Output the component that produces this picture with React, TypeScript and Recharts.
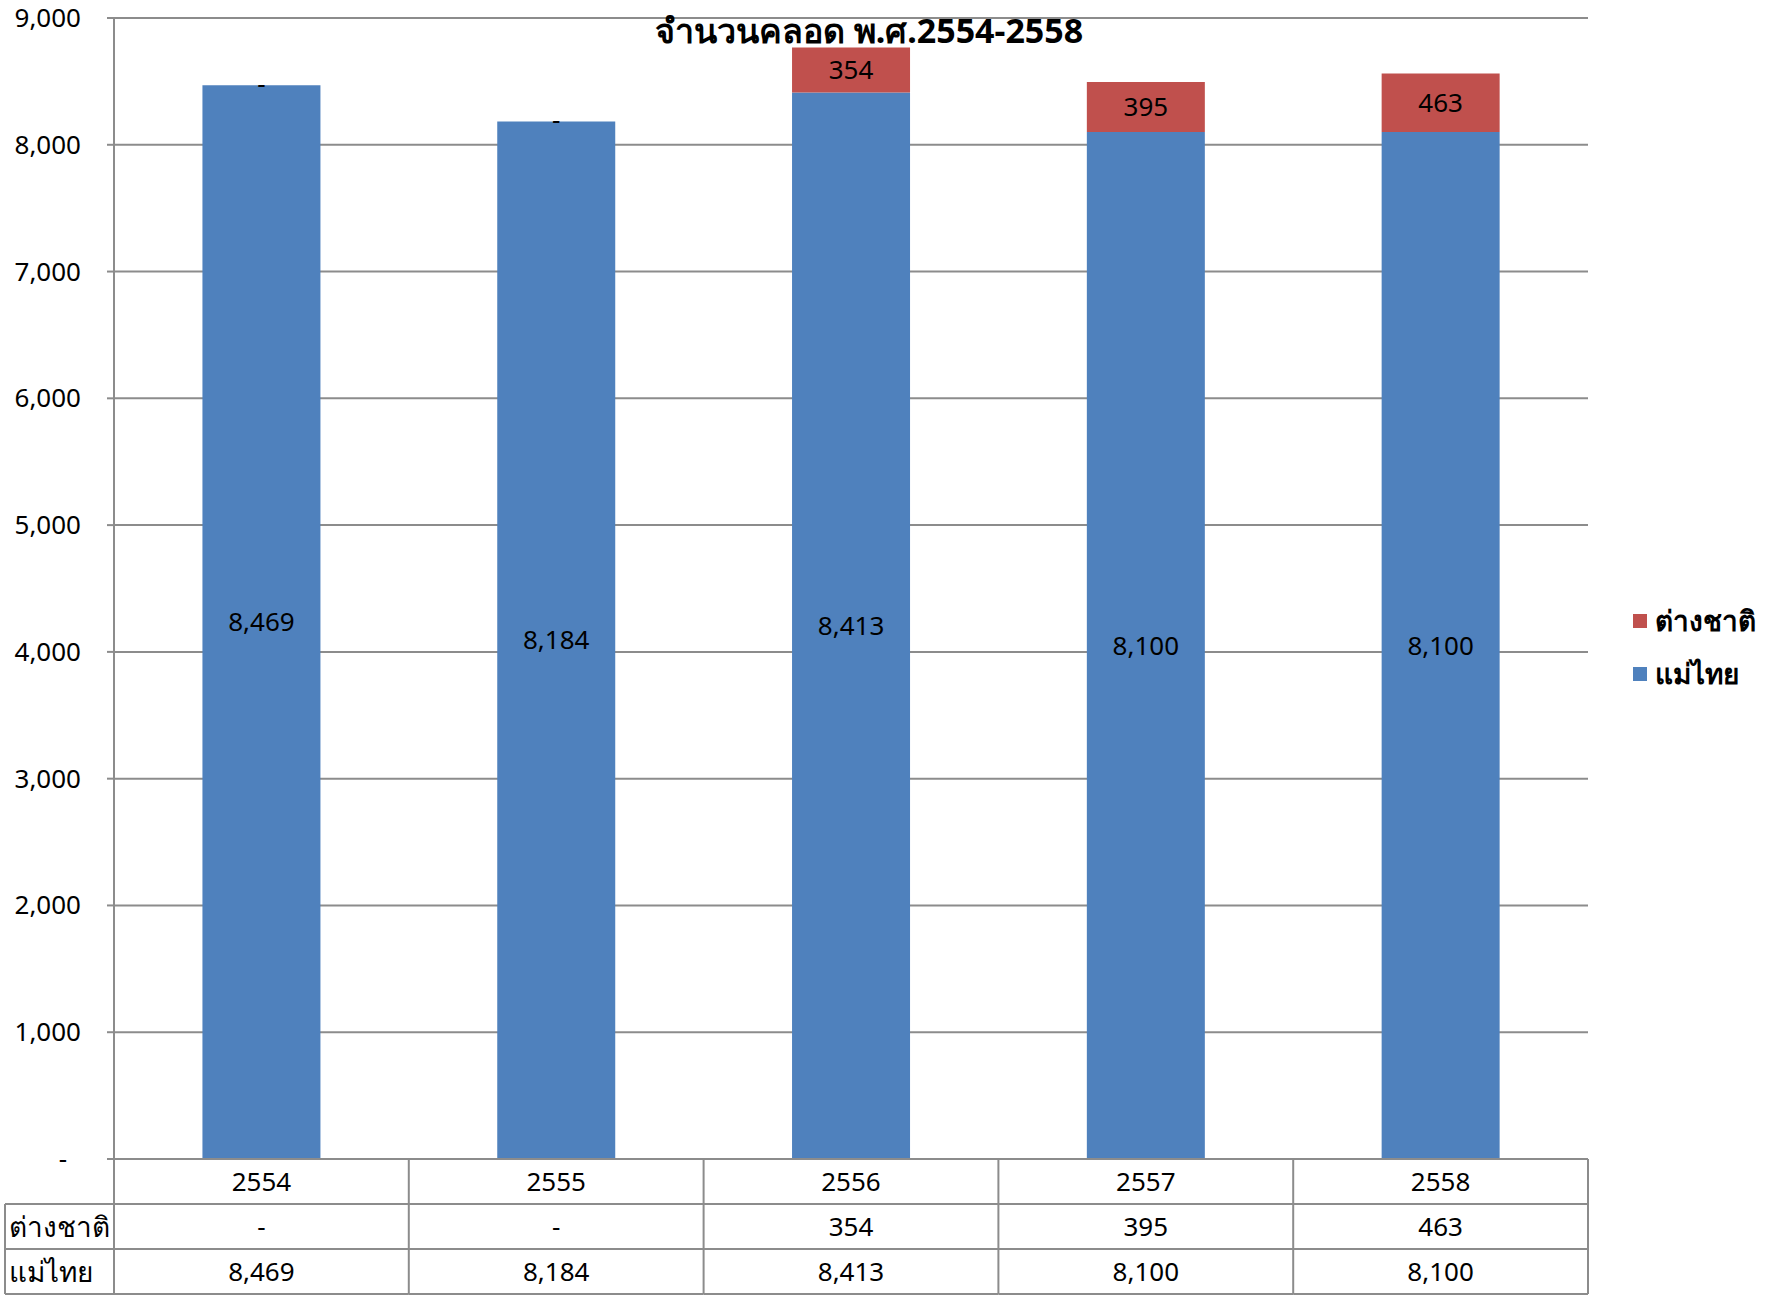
import React from 'react';
import * as R from 'recharts';

const { BarChart, Bar, XAxis, YAxis, CartesianGrid, LabelList, Legend } = R as any;

const categories = ['2554', '2555', '2556', '2557', '2558'];
const thaiMothers = [8469, 8184, 8413, 8100, 8100];
const foreigners = [0, 0, 354, 395, 463];
const yTicks = [0, 1000, 2000, 3000, 4000, 5000, 6000, 7000, 8000, 9000];
const thaiName = 'แม่ไทย';
const foreignName = 'ต่างชาติ';
const chartTitle = 'จำนวนคลอด พ.ศ.2554-2558';

const BLUE = '#4F81BD';
const RED = '#C0504D';
const GRID = '#8c8c8c';
const FONT = "'Noto Sans', 'DejaVu Sans', sans-serif";
const FS = 26;
const FS_THAI = 28;
const ROW_H = 45;
const TABLE_LEFT = 5;

const data = categories.map((c, i) => ({ year: c, thai: thaiMothers[i], foreign: foreigners[i] }));

const fmt = (v: any) => (Number(v) === 0 ? '-' : Number(v).toLocaleString('en-US'));

const YTick = (props: any) => {
  const { x, y, payload } = props;
  const v = payload.value;
  return (
    <text x={v === 0 ? x - 14 : x} y={y} dy={9} textAnchor="end" fontSize={FS} fill="#000" fontFamily={FONT}>
      {fmt(v)}
    </text>
  );
};

const TableTick = (props: any) => {
  const { x, payload, index } = props;
  const usePA = (R as any).usePlotArea;
  const plot = usePA ? usePA() : null;
  const plotW = plot ? plot.width : props.width;
  const y0 = plot ? plot.y + plot.height : props.y;
  const bw = plotW / categories.length;
  const left = x - bw / 2;
  const right = x + bw / 2;
  const i = index;
  const line = { stroke: GRID, strokeWidth: 2 };
  const txt = { fontSize: FS, fill: '#000', fontFamily: FONT, textAnchor: 'middle' as const };
  return (
    <g>
      <line x1={right} x2={right} y1={y0} y2={y0 + 3 * ROW_H} {...line} />
      {i === 0 && (
        <g>
          <line x1={left} x2={left} y1={y0} y2={y0 + 3 * ROW_H} {...line} />
          <line x1={TABLE_LEFT} x2={TABLE_LEFT} y1={y0 + ROW_H} y2={y0 + 3 * ROW_H} {...line} />
          <line x1={TABLE_LEFT} x2={left} y1={y0 + ROW_H} y2={y0 + ROW_H} {...line} />
          <line x1={TABLE_LEFT} x2={left} y1={y0 + 2 * ROW_H} y2={y0 + 2 * ROW_H} {...line} />
          <line x1={TABLE_LEFT} x2={left} y1={y0 + 3 * ROW_H} y2={y0 + 3 * ROW_H} {...line} />
          <text x={TABLE_LEFT + 4} y={y0 + 1.5 * ROW_H} dy={10} fontSize={FS_THAI} fill="#000" fontFamily={FONT}>{foreignName}</text>
          <text x={TABLE_LEFT + 4} y={y0 + 2.5 * ROW_H} dy={10} fontSize={FS_THAI} fill="#000" fontFamily={FONT}>{thaiName}</text>
        </g>
      )}
      <line x1={left} x2={right} y1={y0 + ROW_H} y2={y0 + ROW_H} {...line} />
      <line x1={left} x2={right} y1={y0 + 2 * ROW_H} y2={y0 + 2 * ROW_H} {...line} />
      <line x1={left} x2={right} y1={y0 + 3 * ROW_H} y2={y0 + 3 * ROW_H} {...line} />
      <text x={x} y={y0 + 0.5 * ROW_H} dy={9} {...txt}>{payload.value}</text>
      <text x={x} y={y0 + 1.5 * ROW_H} dy={9} {...txt}>{fmt(foreigners[i])}</text>
      <text x={x} y={y0 + 2.5 * ROW_H} dy={9} {...txt}>{fmt(thaiMothers[i])}</text>
    </g>
  );
};

// "-" label for zero-valued foreign segment, drawn at the top of the blue bar
const ZeroForeignLabel = (props: any) => {
  const { x, y, width, value } = props;
  if (Number(value) !== 0) return null;
  return (
    <text x={Number(x) + Number(width) / 2} y={Number(y)} dy={8} textAnchor="middle" fontSize={FS} fill="#000" fontFamily={FONT}>
      -
    </text>
  );
};

const LegendContent = (props: any) => {
  const payload = props.payload || [];
  const order = [foreignName, thaiName];
  const items = order
    .map((n) => payload.find((p: any) => p.value === n))
    .filter(Boolean);
  return (
    <div style={{ fontFamily: FONT, fontSize: FS_THAI, fontWeight: 'bold' }}>
      {items.map((p: any) => (
        <div key={p.value} style={{ display: 'flex', alignItems: 'center', height: 53, whiteSpace: 'nowrap' }}>
          <span style={{ display: 'inline-block', width: 14, height: 14, background: p.color, marginRight: 8 }} />
          <span>{p.value}</span>
        </div>
      ))}
    </div>
  );
};

export default function App() {
  return (
    <div style={{ position: 'absolute', left: 0, top: 0, width: 1770, height: 1305, background: '#fff', fontFamily: FONT }}>
      <BarChart
        width={1770}
        height={1305}
        data={data}
        margin={{ top: 18, right: 182, bottom: 0, left: 0 }}
        barCategoryGap="30%"
      >
        <CartesianGrid vertical={false} stroke={GRID} strokeWidth={2} />
        <XAxis
          dataKey="year"
          axisLine={{ stroke: GRID, strokeWidth: 2 }}
          tickLine={false}
          tickSize={0}
          tickMargin={0}
          height={146}
          interval={0}
          tick={<TableTick />}
        />
        <YAxis
          width={114}
          domain={[0, 9000]}
          ticks={yTicks}
          interval={0}
          axisLine={{ stroke: GRID, strokeWidth: 2 }}
          tickLine={{ stroke: GRID, strokeWidth: 2 }}
          tickSize={7}
          tickMargin={26}
          tick={<YTick />}
        />
        <Legend
          layout="horizontal"
          align="center"
          verticalAlign="middle"
          content={<LegendContent />}
          wrapperStyle={{ left: 1633, top: 594, width: 140, height: 110 }}
        />
        <Bar dataKey="thai" name={thaiName} stackId="a" fill={BLUE} isAnimationActive={false}>
          <LabelList dataKey="thai" position="center" formatter={fmt} fill="#000" fontSize={FS} fontFamily={FONT} />
          <LabelList dataKey="foreign" content={<ZeroForeignLabel />} />
        </Bar>
        <Bar dataKey="foreign" name={foreignName} stackId="a" fill={RED} isAnimationActive={false}>
          <LabelList dataKey="foreign" position="center" formatter={fmt} fill="#000" fontSize={FS} fontFamily={FONT} />
        </Bar>
      </BarChart>
      <div
        style={{
          position: 'absolute',
          left: 869,
          top: 31,
          transform: 'translate(-50%, -50%)',
          fontSize: 34,
          fontWeight: 'bold',
          whiteSpace: 'nowrap',
          color: '#000',
        }}
      >
        {chartTitle}
      </div>
    </div>
  );
}
